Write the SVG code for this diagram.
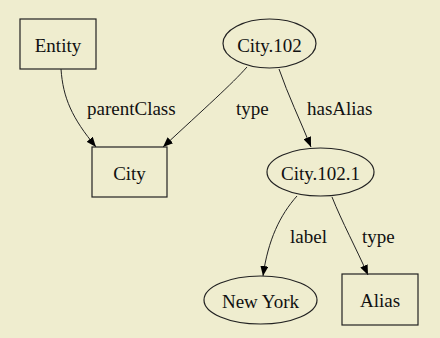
<svg xmlns="http://www.w3.org/2000/svg" width="440" height="338" viewBox="0 0 440 338">
<defs>
<style>
.n{fill:none;stroke:#222;stroke-width:1.2}
.e{fill:none;stroke:#222;stroke-width:1}
.c{text-anchor:middle}
text{font-family:'Times New Roman','Liberation Serif','DejaVu Serif',Times,serif;font-size:19px;fill:#111}
</style>
<marker id="a" viewBox="0 0 10 8" refX="10" refY="4" markerWidth="10" markerHeight="8" markerUnits="userSpaceOnUse" orient="auto">
<path d="M0,0 L10,4 L0,8 Z" fill="#000"/>
</marker>
</defs>
<rect width="440" height="338" fill="#efedcf"/>
<g id="edges">
<path class="e" d="M61,69 C63,98 72,118 96,147" marker-end="url(#a)"/>
<path class="e" d="M247,67 C232,84 205,108 163,147" marker-end="url(#a)"/>
<path class="e" d="M279,69 C288,95 300,120 311,147" marker-end="url(#a)"/>
<path class="e" d="M297,196 C280,215 268,240 263,276" marker-end="url(#a)"/>
<path class="e" d="M332,197 C342,222 356,248 368,275" marker-end="url(#a)"/>
<text x="87" y="115">parentClass</text>
<text x="236" y="115">type</text>
<text x="307" y="115">hasAlias</text>
<text x="290" y="243">label</text>
<text x="362" y="243">type</text>
</g>
<g id="Entity"><rect class="n" x="20" y="19" width="76" height="50"/><text class="c" x="58" y="52">Entity</text></g>
<g id="City"><rect class="n" x="92" y="147" width="75" height="50"/><text class="c" x="129.5" y="180">City</text></g>
<g id="City102"><ellipse class="n" cx="269.5" cy="43.5" rx="46.5" ry="24.5"/><text class="c" x="269.5" y="52">City.102</text></g>
<g id="City1021"><ellipse class="n" cx="320.5" cy="172" rx="53.5" ry="24"/><text class="c" x="320.5" y="180">City.102.1</text></g>
<g id="NewYork"><ellipse class="n" cx="260.5" cy="300" rx="56.5" ry="24"/><text class="c" x="260.5" y="308">New York</text></g>
<g id="Alias"><rect class="n" x="342" y="274" width="76" height="51"/><text class="c" x="380" y="307">Alias</text></g>
</svg>
